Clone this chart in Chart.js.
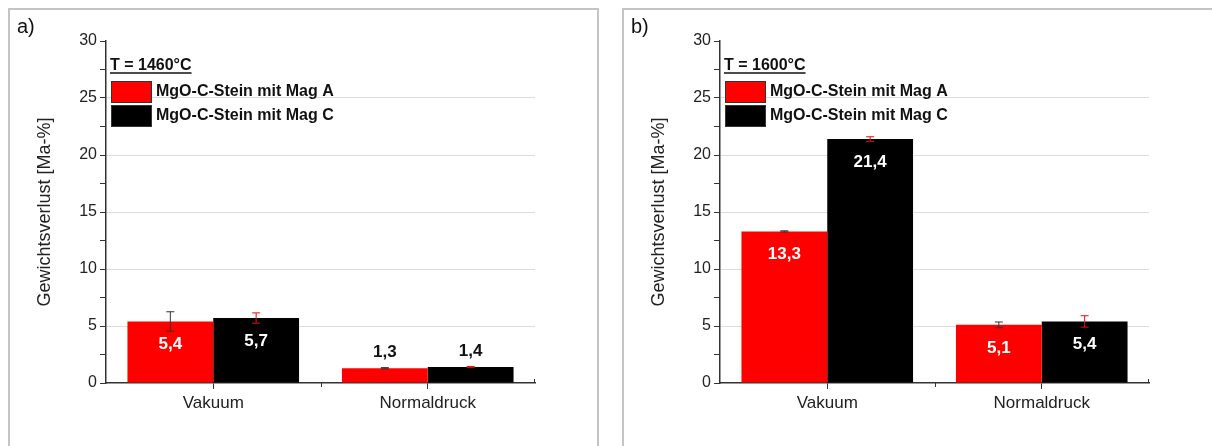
<!DOCTYPE html>
<html>
<head>
<meta charset="utf-8">
<script src="https://cdn.jsdelivr.net/npm/chart.js@4.4.1/dist/chart.umd.min.js"></script>
<style>
    body { margin: 0; background: #fff; overflow: hidden; width: 1212px; height: 446px; position: relative; }
    .panel { position: absolute; top: 8px; height: 460px; border: 2px solid #c4c4c4; background: #fff; }
    #panelA { left: 8px; width: 587px; }
    #panelB { left: 622px; width: 600px; }
    .panel canvas { position: absolute; left: 0; top: 0; }
    .panelLabel { position: absolute; left: 7px; top: 5px; font: 20px "Liberation Sans", Arial, sans-serif; color: #111; }
</style>
</head>
<body>
<div class="panel" id="panelA">
    <canvas id="chartA" width="586" height="436"></canvas>
    <div class="panelLabel">a)</div>
</div>
<div class="panel" id="panelB">
    <canvas id="chartB" width="586" height="436"></canvas>
    <div class="panelLabel">b)</div>
</div>
<script>
// data
const categories = ['Vakuum', 'Normaldruck'];
const seriesNames = ['MgO-C-Stein mit Mag A', 'MgO-C-Stein mit Mag C'];
const yTitle = 'Gewichtsverlust [Ma-%]';

const titleA = 'T = 1460°C';
const magA_1460 = [5.4, 1.3];
const magC_1460 = [5.7, 1.4];
const errA_1460 = [0.85, 0.05];
const errC_1460 = [0.45, 0.05];

const titleB = 'T = 1600°C';
const magA_1600 = [13.3, 5.1];
const magC_1600 = [21.4, 5.4];
const errA_1600 = [0.05, 0.25];
const errC_1600 = [0.2, 0.5];

const yMin = 0;
const yMax = 30;
const yMajor = 5;
const yMinor = 2.5;

Chart.defaults.font.family = '"Liberation Sans", Arial, sans-serif';
Chart.defaults.color = '#222';

class LossChart {

    static colors = {
        barA: '#ff0000',
        barC: '#000000',
        errA: '#333333',
        errC: '#e01010',
        axis: '#333333',
        grid: '#dcdcdc'
    }

    // error bars on top of each bar
    static errorBars = {
        id: 'errorBars',
        afterDatasetsDraw: (chart) => {
            const ctx = chart.ctx;
            const y = chart.scales.y;
            chart.data.datasets.forEach((ds, i) => {
                const meta = chart.getDatasetMeta(i);
                meta.data.forEach((bar, j) => {
                    const v = ds.data[j];
                    const e = ds.errors[j];
                    const top = y.getPixelForValue(v + e);
                    const bot = y.getPixelForValue(v - e);
                    ctx.save();
                    ctx.strokeStyle = ds.errorColor;
                    ctx.lineWidth = 1;
                    ctx.beginPath();
                    ctx.moveTo(bar.x, top); ctx.lineTo(bar.x, bot);
                    ctx.moveTo(bar.x - 4, top); ctx.lineTo(bar.x + 4, top);
                    ctx.moveTo(bar.x - 4, bot); ctx.lineTo(bar.x + 4, bot);
                    ctx.stroke();
                    ctx.restore();
                });
            });
        }
    }

    // value labels, inside the bar when it is tall enough
    static valueLabels = {
        id: 'valueLabels',
        afterDatasetsDraw: (chart) => {
            const ctx = chart.ctx;
            chart.data.datasets.forEach((ds, i) => {
                chart.getDatasetMeta(i).data.forEach((bar, j) => {
                    const text = ds.data[j].toFixed(1).replace('.', ',');
                    const inside = (bar.base - bar.y) > 40;
                    ctx.save();
                    ctx.font = 'bold 17px "Liberation Sans", Arial, sans-serif';
                    ctx.textAlign = 'center';
                    ctx.textBaseline = 'middle';
                    ctx.fillStyle = inside ? '#ffffff' : '#111111';
                    ctx.fillText(text, bar.x, inside ? bar.y + 23 : bar.y - 16);
                    ctx.restore();
                });
            });
        }
    }

    // legend box in the upper left corner of the plot
    static innerLegend = {
        id: 'innerLegend',
        afterDraw: (chart) => {
            const ctx = chart.ctx;
            const area = chart.chartArea;
            const title = chart.options.plugins.innerLegend.title;
            ctx.save();
            ctx.font = 'bold 16px "Liberation Sans", Arial, sans-serif';
            ctx.fillStyle = '#111';
            ctx.textBaseline = 'alphabetic';
            const tx = area.left + 4;
            const ty = area.top + 29;
            ctx.fillText(title, tx, ty);
            const w = ctx.measureText(title).width;
            ctx.strokeStyle = '#111';
            ctx.lineWidth = 1.5;
            ctx.beginPath();
            ctx.moveTo(tx, ty + 3); ctx.lineTo(tx + w, ty + 3);
            ctx.stroke();

            ctx.textBaseline = 'middle';
            chart.data.datasets.forEach((ds, i) => {
                const by = area.top + 40 + i * 24;
                ctx.fillStyle = ds.backgroundColor;
                ctx.fillRect(area.left + 5, by, 40, 21);
                ctx.strokeStyle = '#333';
                ctx.lineWidth = 1;
                ctx.strokeRect(area.left + 5.5, by + 0.5, 40, 21);
                ctx.fillStyle = '#111';
                ctx.fillText(ds.label, area.left + 50, by + 11);
            });
            ctx.restore();
        }
    }

    // short ticks at the category borders
    static minorTicks = {
        id: 'minorTicks',
        afterDraw: (chart) => {
            const ctx = chart.ctx;
            const x = chart.scales.x;
            const base = chart.chartArea.bottom;
            ctx.save();
            ctx.strokeStyle = LossChart.colors.axis;
            ctx.lineWidth = 1;
            ctx.beginPath();
            for (let i = 1; i < x.ticks.length; i++) {
                const px = Math.round((x.getPixelForTick(i - 1) + x.getPixelForTick(i)) / 2) + 0.5;
                ctx.moveTo(px, base); ctx.lineTo(px, base + 4);
            }
            const right = Math.round(chart.chartArea.right) - 0.5;
            ctx.moveTo(right, base); ctx.lineTo(right, base - 4);
            ctx.stroke();
            ctx.restore();
        }
    }

    static build = (canvasId, title, valsA, valsC, errsA, errsC) => {
        return new Chart(document.getElementById(canvasId), {
            type: 'bar',
            data: {
                labels: categories,
                datasets: [
                    {
                        label: seriesNames[0],
                        data: valsA,
                        errors: errsA,
                        errorColor: this.colors.errA,
                        backgroundColor: this.colors.barA,
                        barPercentage: 1,
                        categoryPercentage: 0.8
                    },
                    {
                        label: seriesNames[1],
                        data: valsC,
                        errors: errsC,
                        errorColor: this.colors.errC,
                        backgroundColor: this.colors.barC,
                        barPercentage: 1,
                        categoryPercentage: 0.8
                    }
                ]
            },
            options: {
                responsive: false,
                animation: false,
                devicePixelRatio: 1,
                layout: { padding: { top: 31, right: 61, left: 0, bottom: 0 } },
                plugins: {
                    legend: { display: false },
                    tooltip: { enabled: false },
                    innerLegend: { title: title }
                },
                scales: {
                    x: {
                        grid: {
                            display: true,
                            drawOnChartArea: false,
                            offset: false,
                            tickLength: 6,
                            tickColor: this.colors.axis
                        },
                        border: { color: this.colors.axis, width: 1.5 },
                        ticks: { font: { size: 17 }, color: '#222', padding: 4 },
                        afterFit: (s) => { s.height = 63; }
                    },
                    y: {
                        min: yMin,
                        max: yMax,
                        ticks: {
                            stepSize: yMinor,
                            font: { size: 16 },
                            color: '#222',
                            padding: 3,
                            callback: (v) => (v % yMajor === 0 ? v : '')
                        },
                        grid: {
                            color: (c) => {
                                const v = c.tick ? c.tick.value : 0;
                                return (v % yMajor === 0 && v > yMin && v < yMax) ? this.colors.grid : 'rgba(0,0,0,0)';
                            },
                            tickColor: this.colors.axis,
                            tickLength: 6
                        },
                        border: { color: this.colors.axis, width: 1.5 },
                        title: {
                            display: true,
                            text: yTitle,
                            font: { size: 18 },
                            color: '#222',
                            padding: { top: 24, bottom: 0 }
                        },
                        afterFit: (s) => { s.width = 96; }
                    }
                }
            },
            plugins: [this.errorBars, this.valueLabels, this.innerLegend, this.minorTicks]
        });
    }

    static init = () => {
        this.build('chartA', titleA, magA_1460, magC_1460, errA_1460, errC_1460);
        this.build('chartB', titleB, magA_1600, magC_1600, errA_1600, errC_1600);
    }
}

LossChart.init();
</script>
</body>
</html>
